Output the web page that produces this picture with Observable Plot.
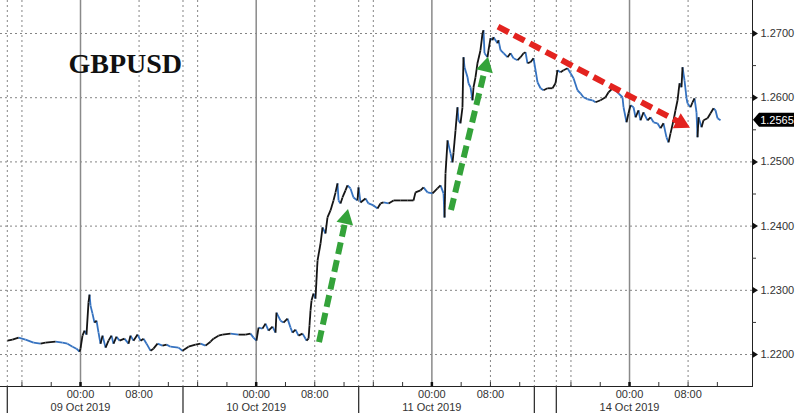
<!DOCTYPE html>
<html><head><meta charset="utf-8">
<script src="https://cdn.jsdelivr.net/npm/d3@7"></script>
<script src="https://cdn.jsdelivr.net/npm/@observablehq/plot@0.6"></script>
<style>body{margin:0;background:#fff;}</style>
</head><body><div id="chart"></div>
<script>
// x is in chart hours: 0 = 09 Oct 2019 00:00 (weekend compressed, 14 Oct 00:00 = 75)
const hours = [-9.97,-9.29,-8.47,-7.51,-6.42,-5.46,-4.78,-3.42,-2.46,-1.78,-1.09,-0.55,-0.14,0,0.27,0.55,0.82,1.09,1.23,1.37,1.64,1.91,2.19,2.46,2.73,3.01,3.42,3.83,4.23,4.51,4.92,5.33,6.01,6.56,6.83,7.24,7.79,8.20,8.61,9.02,9.56,9.97,10.52,11.20,11.75,12.29,13.39,13.93,14.75,15.71,16.39,17.08,17.76,18.17,18.85,19.40,20.49,21.58,22.54,23.22,23.63,24.04,24.32,24.86,25.27,25.68,26.23,26.64,26.77,27.32,27.73,28.28,28.69,28.96,29.37,29.78,30.33,30.74,30.87,31.15,31.28,31.42,31.56,31.83,32.10,32.38,32.79,33.06,33.47,33.74,34.15,34.56,34.84,35.11,35.25,35.52,35.79,36.20,36.47,36.88,37.29,37.84,37.98,38.25,38.93,39.34,40.03,40.57,40.98,41.39,42.08,42.76,43.72,44.67,45.49,45.76,46.45,46.86,47.40,48.09,48.77,49.18,49.59,49.73,49.86,50.14,50.55,50.82,50.96,51.23,51.50,51.64,51.91,52.18,52.32,52.46,52.87,53.00,53.28,53.55,53.69,53.96,54.23,54.64,54.92,55.05,55.19,55.60,55.74,56.01,56.28,56.42,56.97,57.10,57.38,57.79,58.33,58.74,59.15,59.70,60.11,60.52,60.79,61.06,61.47,61.88,62.16,62.43,62.84,63.25,63.80,64.48,64.89,65.16,65.57,65.98,66.53,66.94,67.35,67.89,68.30,68.71,69.26,69.94,70.35,71.04,71.72,72.13,72.68,73.09,73.50,74.04,74.18,74.59,74.86,75.14,75.55,75.82,76.23,76.50,76.91,77.46,77.87,78.28,78.82,79.23,79.64,80.05,80.33,80.60,81.01,81.28,81.56,81.83,82.10,82.24,82.51,82.79,82.92,83.33,83.61,83.88,84.15,84.29,84.43,84.84,85.11,85.66,86.07,86.48,86.75,87.02,87.43];
const prices = [1.22216,1.22232,1.22263,1.22232,1.22185,1.22169,1.22185,1.22200,1.22185,1.22169,1.22122,1.22091,1.22044,1.22091,1.22294,1.22372,1.22310,1.22809,1.22934,1.22762,1.22637,1.22497,1.22528,1.22341,1.22169,1.22294,1.22107,1.22216,1.22294,1.22169,1.22278,1.22216,1.22247,1.22169,1.22294,1.22216,1.22310,1.22216,1.22247,1.22169,1.22060,1.22091,1.22169,1.22138,1.22154,1.22122,1.22107,1.22060,1.22122,1.22154,1.22169,1.22138,1.22200,1.22247,1.22294,1.22310,1.22325,1.22310,1.22310,1.22325,1.22263,1.22216,1.22419,1.22403,1.22481,1.22372,1.22434,1.22341,1.22653,1.22528,1.22497,1.22559,1.22419,1.22341,1.22388,1.22294,1.22325,1.22247,1.22216,1.22247,1.22450,1.22684,1.22840,1.22949,1.22871,1.23464,1.23729,1.23979,1.23885,1.24135,1.24244,1.24400,1.24525,1.24665,1.24400,1.24353,1.24447,1.24556,1.24634,1.24587,1.24447,1.24400,1.24603,1.24369,1.24431,1.24353,1.24322,1.24275,1.24353,1.24369,1.24353,1.24400,1.24400,1.24400,1.24400,1.24525,1.24556,1.24603,1.24525,1.24509,1.24587,1.24634,1.24509,1.24135,1.24821,1.25336,1.25133,1.24993,1.25149,1.25492,1.25851,1.25648,1.25601,1.25851,1.26631,1.26475,1.26319,1.26225,1.26163,1.25960,1.26163,1.26319,1.26537,1.26740,1.27005,1.27052,1.26693,1.26631,1.26740,1.26927,1.26896,1.26943,1.26849,1.26896,1.26740,1.26693,1.26631,1.26693,1.26615,1.26584,1.26631,1.26693,1.26709,1.26537,1.26553,1.26615,1.26428,1.26241,1.26147,1.26116,1.26147,1.26147,1.26225,1.26428,1.26397,1.26428,1.26459,1.26381,1.26303,1.26116,1.26069,1.26007,1.25976,1.25960,1.25929,1.25960,1.26007,1.26085,1.26147,1.26116,1.26069,1.26007,1.25851,1.25617,1.25757,1.25882,1.25851,1.25695,1.25804,1.25648,1.25773,1.25648,1.25695,1.25617,1.25601,1.25523,1.25601,1.25383,1.25305,1.25445,1.25648,1.25804,1.25960,1.26225,1.26163,1.26475,1.26272,1.25991,1.25913,1.25851,1.25929,1.25991,1.25773,1.25383,1.25695,1.25539,1.25648,1.25679,1.25757,1.25835,1.25804,1.25679,1.25648];

const yTicks = [1.22, 1.23, 1.24, 1.25, 1.26, 1.27];
const yTickLabels = ["1.2200", "1.2300", "1.2400", "1.2500", "1.2600", "1.2700"];
const yMinorTicks = [1.225, 1.235, 1.245, 1.255, 1.265];
const dayStarts = [0, 24, 48, 75];
const dayLabels = ["09 Oct 2019", "10 Oct 2019", "11 Oct 2019", "14 Oct 2019"];
const timeTicks = [0, 8, 24, 32, 48, 56, 75, 83];
const timeLabels = ["00:00", "08:00", "00:00", "08:00", "00:00", "08:00", "00:00", "08:00"];
const sessionBreaks = [-10, 14, 38, 62, 65];
const dottedVerticals = [-10, -8, 8, 14, 16, 32, 38, 40, 56, 62, 65, 67, 83];
const minorTimeTicks = [-8,-4,4,8,12,16,20,28,32,36,40,44,52,56,60,67,71,79,83,87];

const arrowTailH = [32.65, 50.68, 57.10];
const arrowTailP = [1.22185, 1.24244, 1.27099];
const arrowHeadH = [36.61, 55.74, 83.33];
const arrowHeadP = [1.24260, 1.26631, 1.25523];
const arrowColors = ["#34a33a", "#34a33a", "#e3231f"];

const title = "GBPUSD";
const xDomain = [-10.93, 91.8];
const yDomain = [1.21502, 1.27514];

const n = Math.min(hours.length, prices.length);
const pts = d3.range(n).map(i => ({h: hours[i], p: prices[i]}));
const segs = pts.slice(1).map((d, i) => ({h1: pts[i].h, p1: pts[i].p, h2: d.h, p2: d.p, up: d.p >= pts[i].p}));
const lastPrice = prices[n - 1];

const font = "Liberation Sans, Arial, sans-serif";

const triSymbol = {draw(ctx) { ctx.moveTo(0, -3.5); ctx.lineTo(5.5, 0); ctx.lineTo(0, 3.5); ctx.closePath(); }};

function arrowsMark(index, scales) {
  const g = d3.create("svg:g");
  arrowTailH.forEach((_, i) => {
    const x1 = scales.x(arrowTailH[i]), y1 = scales.y(arrowTailP[i]);
    const x2 = scales.x(arrowHeadH[i]), y2 = scales.y(arrowHeadP[i]);
    const dx = x2 - x1, dy = y2 - y1, L = Math.hypot(dx, dy), ux = dx / L, uy = dy / L;
    const hl = 15, hw = 8.5;
    const bx = x2 - ux * hl, by = y2 - uy * hl;
    g.append("line").attr("x1", x1).attr("y1", y1).attr("x2", bx + ux).attr("y2", by + uy)
      .attr("stroke", arrowColors[i]).attr("stroke-width", 6).attr("stroke-dasharray", "12,6");
    g.append("path")
      .attr("d", `M${x2},${y2}L${bx - uy * hw},${by + ux * hw}L${bx + uy * hw},${by - ux * hw}Z`)
      .attr("fill", arrowColors[i]);
  });
  return g.node();
}

function lastLabelMark(index, scales, values, dimensions) {
  const y = scales.y(lastPrice);
  const x0 = dimensions.width - dimensions.marginRight + 1;
  const g = d3.create("svg:g");
  g.append("path").attr("d", `M${x0},${y}L${x0 + 6},${y - 7}L${x0 + 41},${y - 7}L${x0 + 41},${y + 7}L${x0 + 6},${y + 7}Z`).attr("fill", "#000");
  g.append("text").attr("x", x0 + 24).attr("y", y).attr("dy", "0.36em").attr("text-anchor", "middle")
    .attr("fill", "#fff").attr("font-size", 11).attr("font-family", font).text(lastPrice.toFixed(4));
  return g.node();
}

const chart = Plot.plot({
  width: 800, height: 417,
  marginLeft: 0, marginRight: 48, marginTop: 0, marginBottom: 31,
  x: {domain: xDomain, axis: null},
  y: {domain: yDomain, axis: null},
  style: {background: "#fff", fontFamily: font},
  marks: [
    Plot.ruleY(yTicks, {stroke: "#858585", strokeDasharray: "2,3", strokeWidth: 1}),
    Plot.ruleX(dottedVerticals, {stroke: "#858585", strokeDasharray: "2,3", strokeWidth: 1}),
    Plot.ruleX(dayStarts, {stroke: "#8a8a8a", strokeWidth: 1.5}),
    Plot.text([title], {frameAnchor: "top-left", dx: 68, dy: 72, lineAnchor: "bottom", textAnchor: "start",
      fontFamily: "Liberation Serif, Times New Roman, serif", fontWeight: "bold", fontSize: 28, fill: "#111"}),
    Plot.link(segs.filter(d => !d.up), {x1: "h1", y1: "p1", x2: "h2", y2: "p2", stroke: "#3572c0", strokeWidth: 1.8}),
    Plot.link(segs.filter(d => d.up), {x1: "h1", y1: "p1", x2: "h2", y2: "p2", stroke: "#151515", strokeWidth: 1.8}),
    arrowsMark,
    // bottom axis
    Plot.ruleY([yDomain[0]], {stroke: "#222", strokeWidth: 1}),
    Plot.ruleX(minorTimeTicks, {stroke: "#333", insetTop: 382}),
    Plot.ruleX(dayStarts, {stroke: "#111", strokeWidth: 2.5, insetTop: 382}),
    Plot.ruleX(sessionBreaks, {stroke: "#333", strokeWidth: 1.3, insetTop: 386, insetBottom: -27}),
    Plot.text(timeTicks, {x: d => d, text: (d, i) => timeLabels[i], frameAnchor: "bottom", lineAnchor: "top", dy: 4,
      fontSize: 11, fill: "#333"}),
    Plot.text(dayStarts, {x: d => d, text: (d, i) => dayLabels[i], frameAnchor: "bottom", lineAnchor: "top", dy: 17,
      fontSize: 11, fill: "#333"}),
    // right axis
    Plot.ruleX([xDomain[1]], {stroke: "#222", strokeWidth: 1, insetBottom: -1}),
    Plot.ruleY(yMinorTicks, {stroke: "#333", insetLeft: 752, insetRight: -4}),
    Plot.dot(yTicks, {x: () => xDomain[1], y: d => d, symbol: triSymbol, fill: "#111", stroke: "none", r: 4}),
    Plot.text(yTicks, {y: d => d, text: (d, i) => yTickLabels[i], frameAnchor: "right", dx: 8, textAnchor: "start",
      lineAnchor: "middle", fontSize: 11, fill: "#333"}),
    lastLabelMark
  ]
});
document.getElementById("chart").appendChild(chart);
</script>
</body></html>
